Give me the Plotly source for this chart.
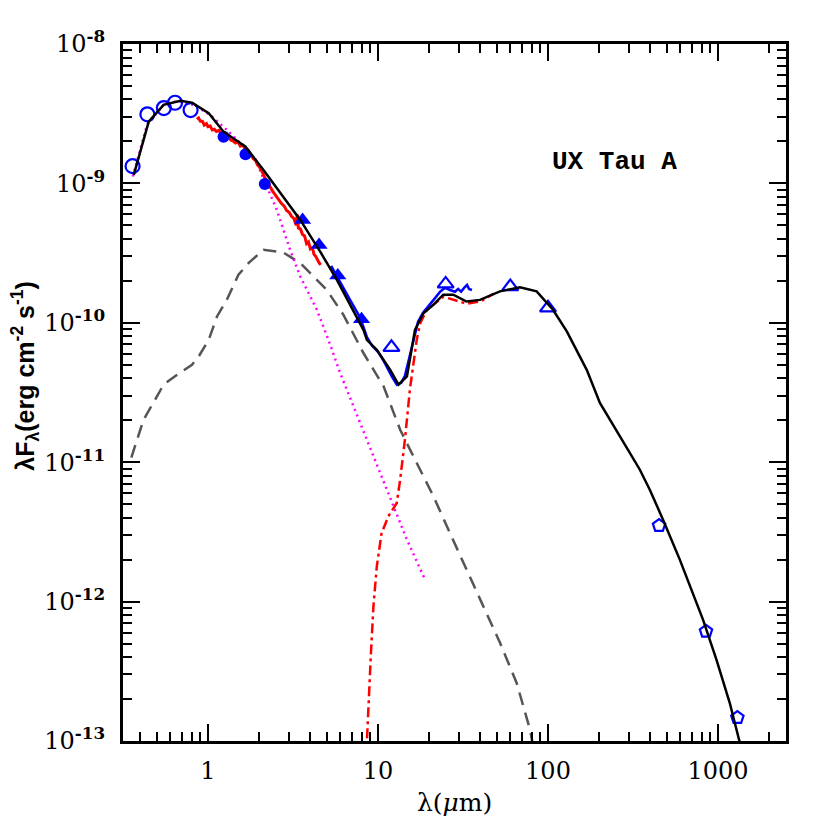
import plotly.graph_objects as go

# ---------------- data ----------------
# photometry
opt_wl = [0.36, 0.44, 0.55, 0.64, 0.79]
opt_f = [1.33e-9, 3.13e-9, 3.47e-9, 3.79e-9, 3.36e-9]

nir_wl = [1.235, 1.662, 2.159]
nir_f = [2.16e-9, 1.62e-9, 9.9e-10]

irac_wl = [3.6, 4.5, 5.8, 8.0]
irac_f = [5.46e-10, 3.61e-10, 2.18e-10, 1.06e-10]

fir_wl = [12.0, 25.0, 60.0, 100.0]
fir_f = [6.67e-11, 1.90e-10, 1.82e-10, 1.28e-10]

mm_wl = [450.0, 850.0, 1300.0]
mm_f = [3.51e-12, 6.12e-13, 1.47e-13]

# total model (black)
model_wl = [0.366, 0.448, 0.548, 0.688, 0.805, 1.01, 1.235, 1.656, 2.12, 2.85,
            3.49, 4.57, 5.73, 8.21, 8.6, 9.84, 11.8, 13.2, 14.8, 16.5, 18.5,
            21.2, 24.2, 27.7, 33.2, 39.8, 52.2, 68.4, 85.7, 107, 129, 169, 202,
            265, 347, 397, 475, 596, 713, 816, 979, 1172, 1328, 1435]
model_f = [1.15e-9, 2.77e-9, 3.66e-9, 3.92e-9, 3.80e-9, 3.19e-9, 2.35e-9, 1.84e-9,
           1.25e-9, 7.62e-10, 5.47e-10, 3.24e-10, 2.03e-10, 8.91e-11, 7.55e-11,
           6.40e-11, 4.60e-11, 3.60e-11, 4.12e-11, 8.91e-11, 1.17e-10, 1.35e-10,
           1.59e-10, 1.59e-10, 1.42e-10, 1.46e-10, 1.68e-10, 1.80e-10, 1.68e-10,
           1.24e-10, 8.67e-11, 4.60e-11, 2.66e-11, 1.53e-11, 8.83e-12, 6.35e-12,
           3.87e-12, 2.00e-12, 1.15e-12, 7.43e-13, 3.84e-13, 1.88e-13, 1.03e-13,
           7.4e-14]

# stellar photosphere (magenta dotted)
star_wl = [0.361, 0.438, 0.548, 0.663, 0.823, 1.03, 1.29, 1.62, 1.94, 2.22, 2.54,
           3.04, 3.49, 4.37, 5.11, 5.99, 7.17, 8.59, 10.3, 12.3, 14.8, 18.9]
star_f = [1.12e-9, 2.63e-9, 3.66e-9, 3.90e-9, 3.66e-9, 3.10e-9, 2.42e-9, 1.84e-9,
          1.40e-9, 9.49e-10, 6.46e-10, 3.34e-10, 2.15e-10, 1.24e-10, 7.55e-11,
          4.36e-11, 2.51e-11, 1.45e-11, 8.37e-12, 4.82e-12, 2.78e-12, 1.44e-12]

# inner disk / envelope component (grey dashed)
disk_wl = [0.354, 0.418, 0.458, 0.548, 0.658, 0.805, 0.881, 1.01, 1.13, 1.29,
           1.51, 1.73, 2.12, 2.78, 3.49, 4.37, 5.00, 6.26, 8.21, 10.8, 13.5,
           16.9, 21.2, 26.5, 33.2, 41.6, 52.2, 65.4, 78.3, 81.5]
disk_f = [1.08e-11, 2.02e-11, 2.45e-11, 3.60e-11, 4.24e-11, 5.00e-11, 5.73e-11,
          7.55e-11, 1.11e-10, 1.46e-10, 2.21e-10, 2.68e-10, 3.34e-10, 3.19e-10,
          2.68e-10, 2.03e-10, 1.72e-10, 1.14e-10, 6.07e-11, 3.49e-11, 1.71e-11,
          9.87e-12, 5.69e-12, 3.10e-12, 1.70e-12, 9.25e-13, 5.06e-13, 2.61e-13,
          1.21e-13, 9.4e-14]

# outer disk wall (red dash-dot)
wall_wl = [8.51, 8.59, 8.78, 9.07, 9.40, 9.84, 10.5, 11.5, 12.9, 13.5, 14.4, 15.4,
           16.9, 17.7, 19.4, 24.2, 33.2, 39.8, 48.0]
wall_f = [7.4e-14, 9.9e-14, 1.78e-13, 4.06e-13, 9.25e-13, 1.79e-12, 3.10e-12,
          4.09e-12, 5.10e-12, 7.50e-12, 1.45e-11, 3.31e-11, 7.55e-11, 9.95e-11,
          1.24e-10, 1.54e-10, 1.37e-10, 1.42e-10, 1.62e-10]

# near-IR spectrum (red solid)
nirspec_wl = [0.86, 0.88, 0.90, 0.93, 0.95, 0.98, 1.00, 1.03, 1.06, 1.09, 1.12,
              1.16, 1.20, 1.24, 1.28, 1.32, 1.36, 1.40, 1.45, 1.50, 1.55, 1.60,
              1.65, 1.70, 1.75, 1.80, 1.85, 1.90, 1.95, 2.00, 2.05, 2.10, 2.15,
              2.20, 2.25, 2.30, 2.40, 2.50, 2.60, 2.70, 2.80, 2.90, 3.00, 3.10,
              3.20, 3.30, 3.35, 3.40, 3.50, 3.60, 3.70, 3.80, 3.90, 4.00, 4.10,
              4.20, 4.30, 4.40, 4.50, 4.60]
nirspec_f = [2.89e-9, 2.95e-9, 2.80e-9, 2.78e-9, 2.62e-9, 2.68e-9, 2.55e-9,
             2.58e-9, 2.42e-9, 2.45e-9, 2.36e-9, 2.40e-9, 2.25e-9, 2.30e-9,
             2.12e-9, 2.18e-9, 2.05e-9, 2.02e-9, 1.95e-9, 1.99e-9, 1.85e-9,
             1.88e-9, 1.78e-9, 1.76e-9, 1.62e-9, 1.58e-9, 1.50e-9, 1.48e-9,
             1.36e-9, 1.32e-9, 1.26e-9, 1.18e-9, 1.14e-9, 1.05e-9, 1.03e-9,
             9.6e-10, 8.8e-10, 8.2e-10, 7.8e-10, 7.2e-10, 6.9e-10, 6.4e-10,
             6.2e-10, 5.8e-10, 5.6e-10, 5.0e-10, 6.0e-10, 4.8e-10, 4.7e-10,
             4.3e-10, 4.2e-10, 3.7e-10, 3.8e-10, 3.4e-10, 3.5e-10, 3.1e-10,
             3.0e-10, 2.8e-10, 2.7e-10, 2.6e-10]

# mid-IR spectrum (blue solid)
irs_wl = [5.30, 5.99, 6.85, 7.85, 8.59, 9.23, 10.0, 10.7, 11.3, 12.1, 12.9, 13.7,
          14.4, 15.2, 16.1, 17.2, 18.4, 20.0, 21.7, 23.2, 24.8, 26.5, 28.4, 29.6,
          30.8, 32.1, 33.4, 34.3, 35.7]
irs_f = [2.56e-10, 1.94e-10, 1.46e-10, 1.09e-10, 7.94e-11, 6.84e-11, 6.19e-11,
         5.43e-11, 4.76e-11, 4.10e-11, 3.60e-11, 3.72e-11, 4.17e-11, 5.43e-11,
         7.55e-11, 1.02e-10, 1.18e-10, 1.35e-10, 1.51e-10, 1.67e-10, 1.78e-10,
         1.72e-10, 1.67e-10, 1.75e-10, 1.67e-10, 1.78e-10, 1.87e-10, 1.75e-10,
         1.72e-10]

x_ticks = [1, 10, 100, 1000]
x_ticktext = ["1", "10", "100", "1000"]
y_ticks = [1e-13, 1e-12, 1e-11, 1e-10, 1e-9, 1e-8]
y_ticktext = ["10<sup><b>-13</b></sup>", "10<sup><b>-12</b></sup>", "10<sup><b>-11</b></sup>",
              "10<sup><b>-10</b></sup>", "10<sup><b>-9</b></sup>", "10<sup><b>-8</b></sup>"]

# ---------------- figure ----------------
BLUE = "#0000ff"
fig = go.Figure()

fig.add_trace(go.Scatter(x=disk_wl, y=disk_f, mode="lines",
                         line=dict(color="#555555", width=2.5, dash="13px,8px")))
fig.add_trace(go.Scatter(x=star_wl, y=star_f, mode="lines",
                         line=dict(color="#ff00ff", width=2.5, dash="2px,4px")))
fig.add_trace(go.Scatter(x=wall_wl, y=wall_f, mode="lines",
                         line=dict(color="#ff0000", width=2.5, dash="10px,4px,3px,4px")))
fig.add_trace(go.Scatter(x=nirspec_wl, y=nirspec_f, mode="lines",
                         line=dict(color="#ff0000", width=3)))
fig.add_trace(go.Scatter(x=irs_wl, y=irs_f, mode="lines",
                         line=dict(color=BLUE, width=2.5)))

fig.add_trace(go.Scatter(x=opt_wl, y=opt_f, mode="markers",
                         marker=dict(symbol="circle-open", size=14, color=BLUE,
                                     line=dict(width=2.2, color=BLUE))))
fig.add_trace(go.Scatter(x=nir_wl, y=nir_f, mode="markers",
                         marker=dict(symbol="circle", size=12, color=BLUE)))
fig.add_trace(go.Scatter(x=irac_wl, y=irac_f, mode="markers",
                         marker=dict(symbol="triangle-up", size=15, color=BLUE)))
fig.add_trace(go.Scatter(x=fir_wl, y=fir_f, mode="markers",
                         marker=dict(symbol="triangle-up-open", size=14, color=BLUE,
                                     line=dict(width=2.2, color=BLUE))))
fig.add_trace(go.Scatter(x=mm_wl, y=mm_f, mode="markers",
                         marker=dict(symbol="pentagon-open", size=13, color=BLUE,
                                     line=dict(width=2.2, color=BLUE))))

fig.add_trace(go.Scatter(x=model_wl, y=model_f, mode="lines",
                         line=dict(color="#000000", width=2.5)))

axis_common = dict(
    type="log", showgrid=False, zeroline=False, automargin=False,
    showline=True, linecolor="black", linewidth=3, mirror="allticks",
    ticks="inside", ticklen=17, tickwidth=2, tickcolor="black",
    minor=dict(ticks="inside", ticklen=9, tickwidth=2, tickcolor="black",
               dtick="D1", showgrid=False),
    tickfont=dict(family="DejaVu Serif", size=24, color="black"),
)

# the page body adds an 8px offset, so margins are reduced accordingly
fig.update_layout(
    width=830, height=830,
    margin=dict(l=115, r=52, t=36, b=97),
    paper_bgcolor="white", plot_bgcolor="white",
    showlegend=False,
    xaxis=dict(axis_common, range=[-0.5, 3.4], tickvals=x_ticks,
               ticktext=x_ticktext, ticklabelstandoff=6),
    yaxis=dict(axis_common, range=[-13, -8], tickvals=y_ticks,
               ticktext=y_ticktext, ticklabelstandoff=10),
    annotations=[
        dict(text="<b>UX Tau A</b>", xref="paper", yref="paper", x=0.741, y=0.831,
             showarrow=False, xanchor="center", yanchor="middle",
             font=dict(family="Liberation Mono", size=26, color="black")),
        dict(text="<b>λF<sub>λ</sub>(erg cm<sup>-2</sup> s<sup>-1</sup>)</b>",
             xref="paper", yref="paper", x=-0.148, y=0.524, textangle=-90,
             showarrow=False, xanchor="center", yanchor="middle",
             font=dict(family="Liberation Sans", size=25, color="black")),
        dict(text="λ(<i>μ</i>m)", xref="paper", yref="paper", x=0.5, y=-0.088,
             showarrow=False, xanchor="center", yanchor="middle",
             font=dict(family="DejaVu Serif", size=25, color="black")),
    ],
)

fig.write_html("out.html")
